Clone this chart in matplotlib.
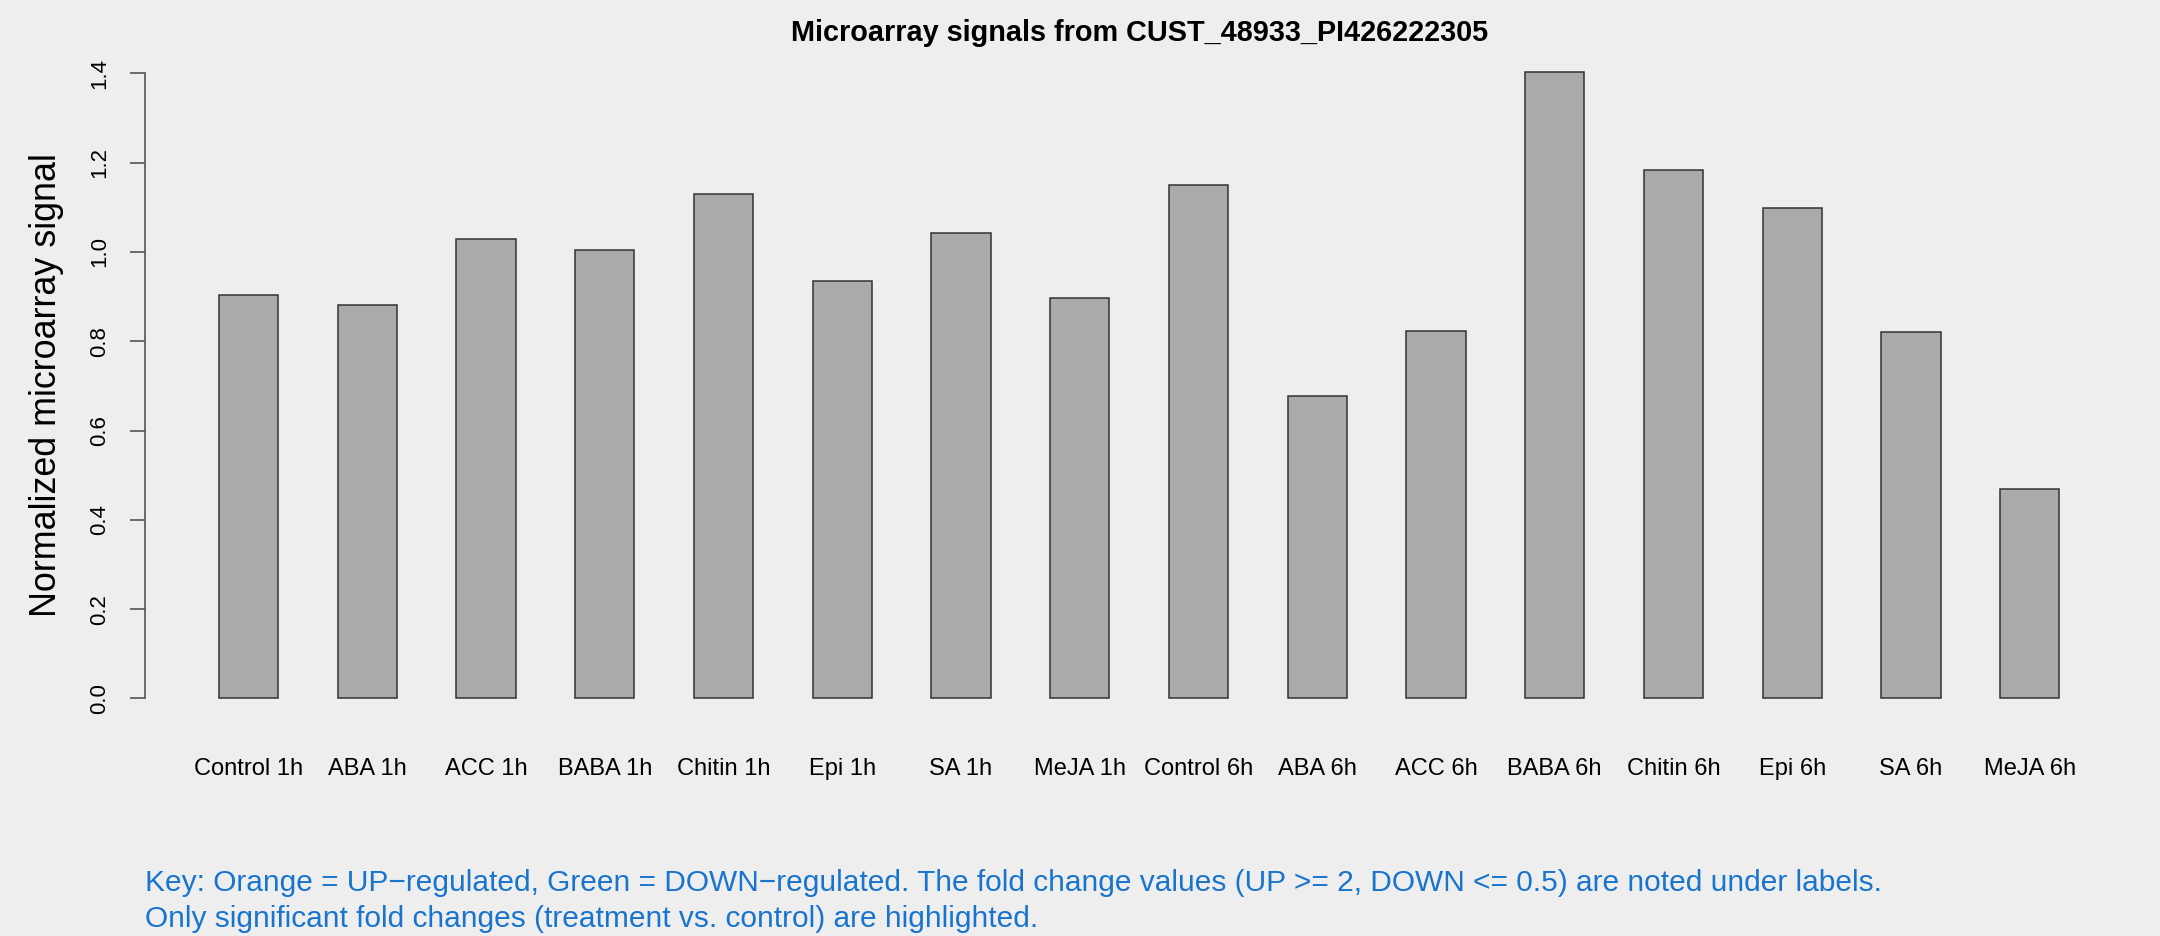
import numpy as np
import matplotlib
matplotlib.use("Agg")
import matplotlib.pyplot as plt

## data
labels = ["Control 1h", "ABA 1h", "ACC 1h", "BABA 1h", "Chitin 1h", "Epi 1h", "SA 1h", "MeJA 1h",
          "Control 6h", "ABA 6h", "ACC 6h", "BABA 6h", "Chitin 6h", "Epi 6h", "SA 6h", "MeJA 6h"]
signal = [0.903, 0.882, 1.030, 1.005, 1.129, 0.934, 1.042, 0.897,
          1.150, 0.678, 0.823, 1.403, 1.184, 1.098, 0.820, 0.469]
yticks = [0.0, 0.2, 0.4, 0.6, 0.8, 1.0, 1.2, 1.4]

title = "Microarray signals from CUST_48933_PI426222305"
ylab = "Normalized microarray signal"
key1 = "Key: Orange = UP\u2212regulated, Green = DOWN\u2212regulated. The fold change values (UP >= 2, DOWN <= 0.5) are noted under labels."
key2 = "Only significant fold changes (treatment vs. control) are highlighted."

bg = "#eeeeee"
plt.rcParams['font.family'] = ['Liberation Sans', 'DejaVu Sans']

fig = plt.figure(figsize=(21.6, 9.36), dpi=100, facecolor=bg)
ax = fig.add_axes([0.0672, 0.2270, 0.9203, 0.7228])
ax.set_facecolor(bg)

## R style barplot: width 1, space 1
n = len(signal)
centers = np.arange(n) * 2 + 1.5
ax.bar(centers, signal, width=1.0, color="#aaaaaa", edgecolor="#333333", linewidth=1.1)

lo, hi = 1.0, 2.0 * n
ext = 0.04 * (hi - lo)
ax.set_xlim(lo - ext, hi + ext)
ymax = max(signal)
ax.set_ylim(-0.04 * ymax, ymax * 1.04)

for s in ["top", "right", "bottom"]:
    ax.spines[s].set_visible(False)
ax.spines["left"].set_bounds(0, 1.4)
ax.spines["left"].set_color("#555555")
ax.spines["left"].set_linewidth(1.2)

ax.set_yticks(yticks)
ax.set_yticklabels(["%.1f" % v for v in yticks], rotation=90, va="center", fontsize=16)
ax.tick_params(axis="y", length=11, width=1.2, color="#555555", pad=14)

ax.set_xticks(centers)
ax.set_xticklabels(labels, fontsize=17)
ax.tick_params(axis="x", length=0, pad=25)

ax.set_title(title, fontsize=20.8, fontweight="bold", pad=1)
ax.set_ylabel(ylab, fontsize=25.8, labelpad=18)

fig.text(0.0671, 0.057, key1, color="#1874cd", fontsize=21.5, va="center", ha="left")
fig.text(0.0671, 0.018, key2, color="#1874cd", fontsize=21.5, va="center", ha="left")

fig.savefig("out.png", dpi=100, facecolor=bg)
